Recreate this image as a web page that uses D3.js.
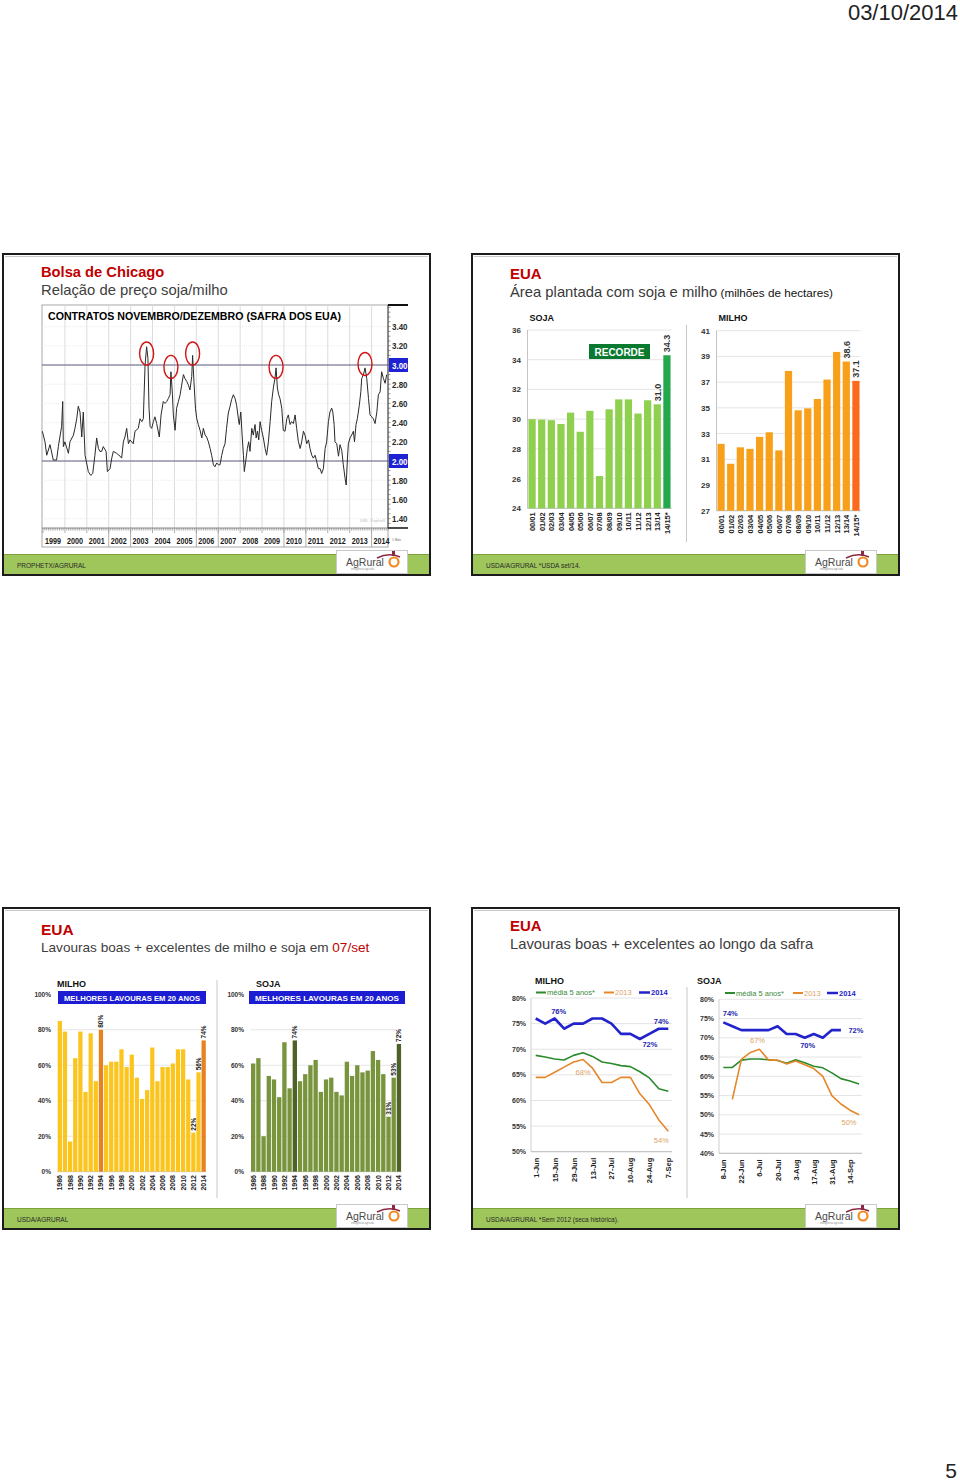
<!DOCTYPE html>
<html><head><meta charset="utf-8">
<script src="https://cdn.jsdelivr.net/npm/d3@7"></script>
<style>body{margin:0;background:#fff}svg{display:block}text{font-family:"Liberation Sans",Arial,Helvetica,sans-serif}</style>
</head><body><svg id="c" width="960" height="1483"></svg>
<script>
// ---------------- DATA ----------------
const priceSeries = [[1998.97,2.31],[1999.09,2.20],[1999.17,2.06],[1999.32,2.17],[1999.47,2.01],[1999.62,2.01],[1999.70,2.15],[1999.85,2.36],[1999.90,2.62],[1999.93,2.15],[2000.00,2.20],[2000.16,2.08],[2000.23,2.20],[2000.39,2.27],[2000.46,2.34],[2000.54,2.44],[2000.61,2.57],[2000.69,2.51],[2000.77,2.25],[2000.84,2.51],[2000.92,2.06],[2000.99,1.98],[2001.07,1.89],[2001.18,1.85],[2001.27,1.87],[2001.37,2.06],[2001.45,2.24],[2001.53,2.13],[2001.60,2.10],[2001.68,2.10],[2001.75,2.15],[2001.88,2.10],[2001.94,1.89],[2002.06,1.92],[2002.14,2.03],[2002.21,2.10],[2002.36,2.08],[2002.52,2.05],[2002.59,2.03],[2002.67,2.20],[2002.74,2.25],[2002.82,2.34],[2002.90,2.18],[2002.97,2.22],[2003.12,2.18],[2003.20,2.31],[2003.35,2.34],[2003.43,2.44],[2003.51,2.41],[2003.58,2.44],[2003.66,3.00],[2003.73,3.19],[2003.79,3.07],[2003.84,2.55],[2003.89,2.36],[2003.96,2.34],[2004.04,2.41],[2004.11,2.46],[2004.19,2.39],[2004.31,2.25],[2004.39,2.48],[2004.49,2.62],[2004.57,2.60],[2004.65,2.62],[2004.72,2.65],[2004.80,2.69],[2004.84,2.93],[2004.91,2.69],[2004.95,2.48],[2005.03,2.32],[2005.10,2.55],[2005.18,2.62],[2005.26,2.69],[2005.33,2.79],[2005.41,2.90],[2005.48,2.86],[2005.56,2.83],[2005.64,2.79],[2005.71,2.74],[2005.79,2.88],[2005.83,3.10],[2005.89,2.83],[2005.96,2.55],[2006.02,2.44],[2006.09,2.38],[2006.17,2.32],[2006.25,2.24],[2006.32,2.34],[2006.40,2.27],[2006.47,2.25],[2006.55,2.20],[2006.63,2.13],[2006.70,2.06],[2006.78,1.96],[2006.85,1.94],[2006.93,1.98],[2007.01,1.96],[2007.08,1.96],[2007.16,2.06],[2007.23,2.13],[2007.31,2.18],[2007.38,2.34],[2007.46,2.50],[2007.54,2.57],[2007.61,2.64],[2007.69,2.69],[2007.77,2.65],[2007.84,2.58],[2007.92,2.44],[2007.96,2.38],[2008.03,2.51],[2008.09,2.27],[2008.15,2.06],[2008.19,1.89],[2008.25,1.99],[2008.33,2.13],[2008.39,2.20],[2008.45,2.10],[2008.53,2.34],[2008.60,2.27],[2008.68,2.38],[2008.73,2.24],[2008.79,2.31],[2008.85,2.22],[2008.91,2.41],[2008.98,2.32],[2009.06,2.24],[2009.14,2.13],[2009.21,2.06],[2009.29,2.20],[2009.37,2.41],[2009.44,2.62],[2009.52,2.77],[2009.59,2.86],[2009.64,2.97],[2009.70,2.76],[2009.76,2.69],[2009.82,2.65],[2009.90,2.55],[2009.97,2.32],[2010.05,2.31],[2010.13,2.44],[2010.20,2.48],[2010.28,2.38],[2010.35,2.41],[2010.43,2.39],[2010.51,2.48],[2010.58,2.34],[2010.66,2.20],[2010.74,2.13],[2010.81,2.20],[2010.89,2.31],[2010.96,2.27],[2011.04,2.18],[2011.12,2.22],[2011.19,2.13],[2011.27,2.06],[2011.34,2.03],[2011.42,2.06],[2011.50,1.99],[2011.57,1.92],[2011.65,1.92],[2011.72,1.87],[2011.80,1.92],[2011.88,2.13],[2011.95,2.20],[2012.03,2.41],[2012.10,2.51],[2012.18,2.55],[2012.23,2.51],[2012.29,2.38],[2012.33,2.20],[2012.41,2.18],[2012.49,2.05],[2012.56,2.17],[2012.64,2.11],[2012.71,1.96],[2012.79,1.82],[2012.84,1.75],[2012.90,2.03],[2012.94,2.18],[2013.02,2.24],[2013.09,2.27],[2013.17,2.31],[2013.22,2.20],[2013.29,2.38],[2013.35,2.44],[2013.44,2.58],[2013.51,2.72],[2013.55,2.86],[2013.63,2.90],[2013.70,2.97],[2013.78,2.86],[2013.86,2.65],[2013.93,2.48],[2014.01,2.46],[2014.08,2.44],[2014.16,2.39],[2014.24,2.51],[2014.31,2.69],[2014.39,2.72],[2014.46,2.93],[2014.54,2.86],[2014.62,2.81],[2014.69,2.90]];
const circleYears = [2003.73, 2004.84, 2005.83, 2009.64, 2013.70];
const circleRatio = [3.12, 2.98, 3.12, 2.98, 3.01];
const ratioTicks = [1.4,1.6,1.8,2.0,2.2,2.4,2.6,2.8,3.0,3.2,3.4];
const ratioRefLines = [2.0, 3.0];
const yearLabels = [1999,2000,2001,2002,2003,2004,2005,2006,2007,2008,2009,2010,2011,2012,2013,2014];
const yearSeparators = [2002,2003,2006,2007,2010,2011,2014];

const areaSeasons = ["00/01","01/02","02/03","03/04","04/05","05/06","06/07","07/08","08/09","09/10","10/11","11/12","12/13","13/14","14/15*"];
const sojaArea = [30.0,29.97,29.93,29.67,30.44,29.15,30.56,26.17,30.66,31.33,31.33,30.38,31.27,31.0,34.3];
const milhoArea = [32.2,30.65,31.93,31.81,32.74,33.1,31.69,37.87,34.81,34.96,35.69,37.2,39.35,38.6,37.1];
const sojaAreaTicks = [24,26,28,30,32,34,36];
const milhoAreaTicks = [27,29,31,33,35,37,39,41];

const condYears = [1986,1987,1988,1989,1990,1991,1992,1993,1994,1995,1996,1997,1998,1999,2000,2001,2002,2003,2004,2005,2006,2007,2008,2009,2010,2011,2012,2013,2014];
const milhoCond = [85,79,17,64,79,45,78,51,80,60,62,62,69,59,66,53,41,46,70,51,59,59,61,69,69,52,22,56,74];
const sojaCond = [61,64,20,54,52,42,73,47,74,51,55,60,63,45,52,53,45,43,62,54,60,56,57,68,63,55,31,53,72];
const condHighlight = [1994, 2014];
const condLabelled = [1994, 2012, 2013, 2014];
const pctTicks = [0,20,40,60,80,100];

const milhoWeeks = ["1-Jun","8-Jun","15-Jun","22-Jun","29-Jun","6-Jul","13-Jul","20-Jul","27-Jul","3-Aug","10-Aug","17-Aug","24-Aug","31-Aug","7-Sep"];
const milhoAvg5 = [68.8,68.5,68.1,67.9,68.8,69.3,68.6,67.5,67.2,66.8,66.6,65.6,64.4,62.3,61.8];
const milho2013 = [64.5,64.5,65.5,66.5,67.5,68,66.3,63.5,63.5,64.5,64.5,61.3,59.2,56.2,54];
const milho2014 = [76,75,76,74,75,75,76,76,75,73,73,72,73,74,74];
const milhoLineTicks = [50,55,60,65,70,75,80];

const sojaWeeks = ["8-Jun","15-Jun","22-Jun","29-Jun","6-Jul","13-Jul","20-Jul","27-Jul","3-Aug","10-Aug","17-Aug","24-Aug","31-Aug","7-Sep","14-Sep","21-Sep"];
const sojaAvg5 = [62.3,62.3,64.2,64.5,64.5,64.3,64.1,63.4,64.3,63.5,62.6,62.2,60.9,59.4,58.8,58.0];
const soja2013 = [null,54,64.4,66.2,67,64.2,64.2,63.2,64,63,62,60,55,52.8,51.2,50];
const soja2014 = [74,73,72,72,72,72,73,71,71,70,71,70,72,72,null,null];
const sojaLineTicks = [40,45,50,55,60,65,70,75,80];

// ---------------- HELPERS ----------------
const svg = d3.select("#c");
svg.append("rect").attr("width",960).attr("height",1483).attr("fill","#fff");
function txt(g,x,y,s,o={}){
  const t=g.append("text").attr("x",x).attr("y",y).text(s)
    .attr("font-size",o.size||10).attr("fill",o.fill||"#000")
    .attr("font-weight",o.bold?"bold":"normal").attr("text-anchor",o.anchor||"start");
  if(o.len) t.attr("textLength",o.len).attr("lengthAdjust","spacingAndGlyphs");
  if(o.rot) t.attr("transform",`rotate(${o.rot},${x},${y})`);
  return t;
}
function hline(g,x1,x2,y,c,w,dash){const l=g.append("line").attr("x1",x1).attr("x2",x2).attr("y1",y).attr("y2",y).attr("stroke",c).attr("stroke-width",w||1);if(dash)l.attr("stroke-dasharray",dash);return l;}
function vline(g,x,y1,y2,c,w){return g.append("line").attr("x1",x).attr("x2",x).attr("y1",y1).attr("y2",y2).attr("stroke",c).attr("stroke-width",w||1);}

const RED="#c00000", SW=427, SH=321;
function slide(sx,sy,footer){
  const g=svg.append("g");
  g.append("rect").attr("x",sx).attr("y",sy).attr("width",SW).attr("height",SH).attr("fill","#fff").attr("stroke","#1b1b1b").attr("stroke-width",2);
  hline(g,sx+2,sx+SW-2,sy+2.5,"#c8c8c8",1);
  g.append("rect").attr("x",sx+1).attr("y",sy+300).attr("width",333).attr("height",20).attr("fill","#9ec65a");
  g.append("rect").attr("x",sx+405).attr("y",sy+300).attr("width",21).attr("height",20).attr("fill","#9ec65a");
  hline(g,sx+1,sx+334,sy+300.5,"#7da23c",1);
  hline(g,sx+405,sx+426,sy+300.5,"#7da23c",1);
  g.append("rect").attr("x",sx+333.5).attr("y",sy+296.5).attr("width",71).attr("height",23).attr("fill","#fff").attr("stroke","#c9c9c9");
  txt(g,sx+14,sy+313.5,footer,{size:6.5,fill:"#2a2a2a"});
  // logo
  txt(g,sx+343,sy+312,"AgRural",{size:10.5,fill:"#4a4a4a"});
  g.append("circle").attr("cx",sx+391).attr("cy",sy+308).attr("r",4.5).attr("fill","none").attr("stroke","#f08a24").attr("stroke-width",2.2);
  g.append("path").attr("d",`M${sx+374},${sy+304} Q${sx+386},${sy+298} ${sx+397},${sy+303}`).attr("fill","none").attr("stroke","#8c2a45").attr("stroke-width",1.6);
  g.append("rect").attr("x",sx+389).attr("y",sy+297).attr("width",3).attr("height",5).attr("fill","#8c2a45");
  txt(g,sx+348,sy+316,"inteligência agrícola",{size:2.6,fill:"#888"});
  return g;
}

// page text
txt(svg,958,20,"03/10/2014",{size:22,fill:"#222",anchor:"end"});
txt(svg,957,1478,"5",{size:21,fill:"#222",anchor:"end"});

// ================= SLIDE 1: Chicago =================
(function(){
  const g=slide(3,254,"PROPHETX/AGRURAL");
  txt(g,41,276.5,"Bolsa de Chicago",{size:14.7,bold:true,fill:RED});
  txt(g,41,295,"Relação de preço soja/milho",{size:14.8,fill:"#404040"});
  const L=42,R=388,T=305,B=528,AB=547;
  const x=d3.scaleLinear().domain([1999,2014.75]).range([43,388]);
  const y=d3.scaleLinear().domain([1.4,3.4]).range([518.6,326.6]);
  g.append("rect").attr("x",L).attr("y",T).attr("width",R-L).attr("height",AB-T).attr("fill","#fff").attr("stroke","#a8a8a8");
  yearLabels.slice(1).forEach(yr=>vline(g,x(yr),T,B,"#dcdcdc"));
  ratioTicks.forEach(v=>hline(g,L,R,y(v),"#e6e6e6",0.8,"1,1"));
  ratioRefLines.forEach(v=>hline(g,L,R,y(v),"#5c5c80",1));
  txt(g,48,320,"CONTRATOS NOVEMBRO/DEZEMBRO (SAFRA DOS EUA)",{size:10.5,bold:true,len:293});
  // axis band
  hline(g,L,R,B,"#888",1);
  const months=d3.range(0,190).map(i=>1999+i/12).filter(m=>m<=2014.75);
  months.forEach((m,i)=>vline(g,x(m),B,B+(i%12===0?5:2.5),"#777",0.6));
  yearSeparators.forEach(yr=>vline(g,x(yr),B,AB,"#999",0.8));
  yearLabels.forEach(yr=>txt(g,x(yr)+2,544,String(yr),{size:9.5,bold:true,len:16,fill:"#1a1a1a"}));
  // right axis
  vline(g,R,T,B,"#444",1);
  hline(g,R,408,T,"#111",2);
  hline(g,R,408,B,"#111",1.5);
  d3.range(1.3,3.61,0.05).forEach(v=>hline(g,R,R+2.5,y(v),"#555",0.6));
  ratioTicks.forEach(v=>{
    const isRef=ratioRefLines.some(r=>Math.abs(r-v)<1e-9);
    if(isRef) g.append("rect").attr("x",R+1).attr("y",y(v)-7).attr("width",19).attr("height",14).attr("fill","#1f22d2");
    txt(g,R+4,y(v)+3.5,v.toFixed(2),{size:9.5,bold:true,fill:isRef?"#fff":"#2a2a2a",len:15.5});
  });
  txt(g,R+4,541,"1 Bds",{size:3.5,fill:"#777"});
  txt(g,385,522,"USN - ProphetX",{size:3.5,fill:"#bbb",anchor:"end"});
  // line
  g.append("path").datum(priceSeries).attr("d",d3.line().x(d=>x(d[0])).y(d=>y(d[1])))
    .attr("fill","none").attr("stroke","#2a2a2a").attr("stroke-width",1);
  circleYears.forEach((yr,i)=>g.append("ellipse").attr("cx",x(yr)).attr("cy",y(circleRatio[i])).attr("rx",7).attr("ry",11.5)
    .attr("fill","none").attr("stroke","#d01515").attr("stroke-width",1.4));
})();

// ================= SLIDE 2: Área plantada =================
(function(){
  const g=slide(472,254,"USDA/AGRURAL  *USDA set/14.");
  txt(g,510,279,"EUA",{size:15,bold:true,fill:RED});
  const t=txt(g,510,297,"Área plantada com soja e milho",{size:14.8,fill:"#3a3a3a"});
  t.append("tspan").attr("font-size",11.7).attr("fill","#111").text(" (milhões de hectares)");
  function barChart(o){
    const x=d3.scaleBand().domain(areaSeasons).range(o.xr).paddingInner(0.25).paddingOuter(0.1);
    const y=d3.scaleLinear().domain(o.dom).range(o.yr);
    o.ticks.forEach(v=>{hline(g,o.xr[0],o.xr[1],y(v),"#e4e4e4",1);txt(g,o.lab,y(v)+3,String(v),{size:8,bold:true,anchor:"end",fill:"#333"});});
    vline(g,o.xr[0],o.yr[1],o.yr[0],"#c4c4c4",1);
    hline(g,o.xr[0],o.xr[1],o.yr[0],"#bdbdbd",1);
    txt(g,o.xr[0]+2,321,o.title,{size:9,bold:true,fill:"#111"});
    areaSeasons.forEach((s,i)=>{
      const v=o.vals[i];
      g.append("rect").attr("x",x(s)).attr("y",y(v)).attr("width",x.bandwidth()).attr("height",y(o.dom[0])-y(v))
        .attr("fill",i===areaSeasons.length-1?o.c2:o.c1);
      txt(g,x(s)+x.bandwidth()/2+3,o.yr[0]+4,s,{size:7.5,bold:true,anchor:"end",rot:-90,fill:"#222"});
      if(i>=areaSeasons.length-2) txt(g,x(s)+x.bandwidth()/2+3.5,y(v)-3,v.toFixed(1),{size:9,bold:true,rot:-90,fill:"#333"});
    });
    return {x,y};
  }
  barChart({xr:[527.5,671.5],yr:[508.3,330],dom:[24,36],ticks:sojaAreaTicks,lab:521,vals:sojaArea,c1:"#8fd04f",c2:"#25a84b",title:"SOJA"});
  barChart({xr:[716.5,860.5],yr:[510.7,330.7],dom:[27,41],ticks:milhoAreaTicks,lab:710,vals:milhoArea,c1:"#f9a01b",c2:"#fb6a1c",title:"MILHO"});
  g.append("rect").attr("x",589).attr("y",344).attr("width",61).attr("height",15).attr("fill","#0b7a31");
  txt(g,619.5,355.5,"RECORDE",{size:10,bold:true,fill:"#fff",anchor:"middle"});
  vline(g,686.5,325,542,"#c8c8c8",1);
})();

// ================= SLIDE 3: Condições =================
(function(){
  const g=slide(3,908,"USDA/AGRURAL");
  txt(g,41,935,"EUA",{size:15.5,bold:true,fill:RED});
  const t=txt(g,41,952,"Lavouras boas + excelentes de milho e soja em ",{size:13.6,fill:"#404040"});
  t.append("tspan").attr("fill",RED).text("07/set");
  function condChart(o){
    const x=d3.scaleBand().domain(condYears).range(o.xr).paddingInner(0.17).paddingOuter(0.1);
    const y=d3.scaleLinear().domain([0,100]).range([1171.7,994.3]);
    pctTicks.forEach(v=>{if(v>0)hline(g,o.xr[0],o.xr[1],y(v),"#e6e6e6",1);txt(g,o.lab,y(v)+2.5,v+"%",{size:6.5,bold:true,anchor:"end",fill:"#333"});});
    hline(g,o.xr[0],o.xr[1],y(0),"#c8c8c8",1);
    txt(g,o.tx,987,o.title,{size:9,bold:true,fill:"#111"});
    g.append("rect").attr("x",o.bx[0]).attr("y",991).attr("width",o.bx[1]-o.bx[0]).attr("height",13).attr("fill","#1c1cd2");
    txt(g,(o.bx[0]+o.bx[1])/2,1000.5,"MELHORES LAVOURAS EM 20 ANOS",{size:7,bold:true,fill:"#fff",anchor:"middle",len:o.bx[1]-o.bx[0]-12});
    condYears.forEach((yr,i)=>{
      const v=o.vals[i], hi=condHighlight.includes(yr);
      g.append("rect").attr("x",x(yr)).attr("y",y(v)).attr("width",x.bandwidth()).attr("height",y(0)-y(v)).attr("fill",hi?o.c2:o.c1);
      if(yr%2===0) txt(g,x(yr)+x.bandwidth()/2+2.5,1175,String(yr),{size:7,bold:true,anchor:"end",rot:-90,fill:"#222"});
      if(condLabelled.includes(yr)) txt(g,x(yr)+x.bandwidth()/2+2.5,y(v)-2,v+"%",{size:6.5,bold:true,rot:-90,fill:"#222"});
    });
  }
  condChart({xr:[57.2,206.3],lab:51,tx:57,title:"MILHO",bx:[58,206],vals:milhoCond,c1:"#fbc520",c2:"#e8821f"});
  condChart({xr:[250.5,401.6],lab:244,tx:256,title:"SOJA",bx:[249,405],vals:sojaCond,c1:"#78943d",c2:"#4e6227"});
  vline(g,217,980,1198,"#c8c8c8",1);
})();

// ================= SLIDE 4: Ao longo da safra =================
(function(){
  const g=slide(472,908,"USDA/AGRURAL  *Sem 2012 (seca histórica).");
  txt(g,510,931,"EUA",{size:15,bold:true,fill:RED});
  txt(g,510,949,"Lavouras boas + excelentes ao longo da safra",{size:14.8,fill:"#404040"});
  const GREEN="#2b8a2b", ORANGE="#e6862a", BLUE="#2323cc", TAN="#dca367";
  function lineChart(o){
    const x=d3.scalePoint().domain(o.weeks).range(o.xr);
    const y=d3.scaleLinear().domain(o.dom).range(o.yr);
    o.ticks.forEach(v=>{hline(g,o.ax,o.gx,y(v),"#e4e4e4",1);txt(g,o.lab,y(v)+2.5,v+"%",{size:7,bold:true,anchor:"end",fill:"#333"});});
    vline(g,o.ax,o.yr[1],o.yr[0],"#cfcfcf",1);
    hline(g,o.ax,o.gx,o.yr[0],"#bdbdbd",1);
    txt(g,o.tx,984,o.title,{size:9,bold:true,fill:"#111"});
    o.weeks.forEach((w,i)=>{if(i%2===0)txt(g,x(w)+3,o.yr[0]+6,w,{size:7.5,bold:true,anchor:"end",rot:-90,fill:"#222"});});
    const ln=d3.line().defined(d=>d[1]!=null).x(d=>x(d[0])).y(d=>y(d[1]));
    [[o.avg,GREEN,1.6],[o.s13,ORANGE,1.6],[o.s14,BLUE,2.6]].forEach(([vals,c,w])=>{
      g.append("path").datum(o.weeks.map((wk,i)=>[wk,vals[i]])).attr("d",ln).attr("fill","none").attr("stroke",c).attr("stroke-width",w).attr("stroke-linejoin","round");
    });
    // legend
    const L=o.leg, ly=o.legY;
    hline(g,L[0],L[0]+10,ly,GREEN,2);txt(g,L[0]+11,ly+2.5,"média 5 anos*",{size:7.5,fill:"#3d8a3d"});
    hline(g,L[1],L[1]+10,ly,ORANGE,2);txt(g,L[1]+11,ly+2.5,"2013",{size:7.5,fill:TAN});
    hline(g,L[2],L[2]+11,ly,BLUE,2.5);txt(g,L[2]+12,ly+2.5,"2014",{size:7.5,bold:true,fill:BLUE});
    o.labels.forEach(([wk,val,dx,dy,col])=>txt(g,x(wk)+dx,y(val)+dy,Math.round(val)+"%",{size:7.5,bold:col===BLUE,fill:col===BLUE?"#2525b0":TAN,anchor:"middle"}));
  }
  lineChart({weeks:milhoWeeks,xr:[535.7,668.3],dom:[50,80],yr:[1151.7,998],ticks:milhoLineTicks,ax:531,gx:672,lab:526,tx:535,title:"MILHO",
    avg:milhoAvg5,s13:milho2013,s14:milho2014,leg:[536,604,639],legY:992.5,
    labels:[["15-Jun",76,4,-4,BLUE],["17-Aug",72,10,8,BLUE],["7-Sep",74,-7,-5,BLUE],["6-Jul",68,0,16,ORANGE],["7-Sep",54,-7,12,ORANGE]]});
  lineChart({weeks:sojaWeeks,xr:[723.3,859],dom:[40,80],yr:[1153.3,999.3],ticks:sojaLineTicks,ax:719,gx:862,lab:714,tx:697,title:"SOJA",
    avg:sojaAvg5,s13:soja2013,s14:soja2014,leg:[725,793,827],legY:993,
    labels:[["8-Jun",74,7,-6,BLUE],["10-Aug",70,3,10,BLUE],["7-Sep",72,15,3,BLUE],["6-Jul",67,-2,-6,ORANGE],["21-Sep",50,-10,10,ORANGE]]});
  vline(g,687,987,1198,"#c8c8c8",1);
})();
</script></body></html>
